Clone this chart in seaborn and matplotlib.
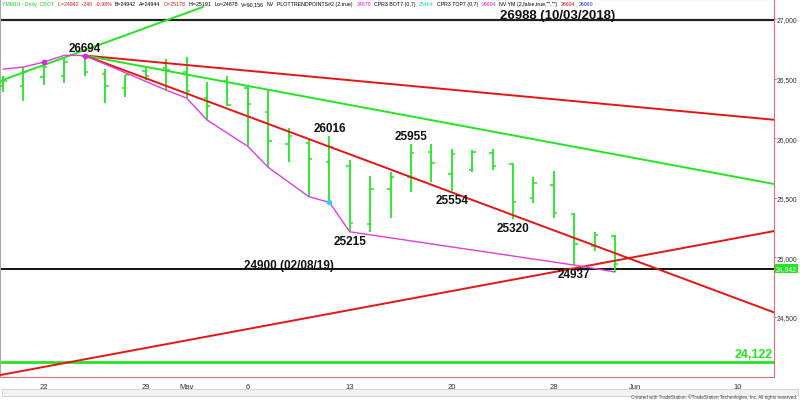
import matplotlib
matplotlib.use('Agg')
import numpy as np
import pandas as pd
import seaborn as sns
import matplotlib.pyplot as plt
from matplotlib.patches import Rectangle

###
### DATA (daily bars of YM M19, index 0 = first bar on screen)
###
bar_open  = [26440, 26440, 26516, 26524, 26690, 26539, 26421, 26561, 26589, 26553,
             26335, 26482, 26420, 26217, 25951, 25960, 25798, 25769, 25280, 25574,
             25677, 25887, 25700, 25733, 25873, 25780, 25498, 25610, 25364, 25098, 25178]
bar_high  = [26524, 26595, 26622, 26679, 26694, 26580, 26533, 26595, 26664, 26680,
             26469, 26524, 26449, 26407, 26083, 25993, 26016, 25820, 25680, 25719,
             25955, 25951, 25909, 25901, 25909, 25789, 25672, 25722, 25370, 25215, 25191]
bar_low   = [26385, 26309, 26446, 26463, 26519, 26293, 26343, 26491, 26398, 26337,
             26153, 26273, 25932, 25756, 25798, 25509, 25462, 25215, 25215, 25328,
             25551, 25630, 25554, 25714, 25733, 25320, 25454, 25330, 24937, 25056, 24878]
bar_close = [26480, 26553, 26600, 26642, 26553, 26440, 26530, 26519, 26575, 26393,
             26268, 26278, 26287, 25979, 26016, 25825, 25930, 25286, 25574, 25677,
             25873, 25789, 25867, 25887, 25769, 25467, 25624, 25372, 25112, 25188, 24942]

tick_idx = [2, 7, 9, 12, 17, 22, 27, 31, 36]
tick_lbl = ['22', '29', 'May', '6', '13', '20', '28', 'Jun', '10']
price_ticks = [24500, 25000, 25500, 26000, 26500, 27000]

### magenta swing line (trend points indicator)
nv_idx = [0, 1, 2, 3, 4, 8, 9, 10, 12, 13, 15, 16, 17, 28, 30]
nv_val = [26580, 26597, 26639, 26695, 26694, 26404, 26337, 26153, 25932, 25756,
          25509, 25462, 25215, 24936, 24878]

### swing labels
swing_idx = [4, 16, 20, 17, 22, 25, 28]
swing_val = [26694, 26016, 25955, 25215, 25554, 25320, 24937]
swing_top = [True, True, True, False, False, False, False]

### trend lines: start idx, start value, end idx, end value
trend_x0 = [-0.15, 4, 4, 4, -0.15]
trend_y0 = [26480, 26694, 26694, 26694, 24013]
trend_x1 = [9.8, 37.8, 37.8, 37.8, 37.8]
trend_y1 = [27101, 26155, 25616, 24539, 25221]
trend_col = ['#22e622', '#e81414', '#22e622', '#e81414', '#e81414']

### horizontal levels
level_val = [26988, 24900, 24122]
last_price = 24942

header = [('YMM19 - Daily  CBOT', '#22cc22'), ('L=24942  -248  -0.98%', '#e01010'),
          ('B=24942', 'black'), ('A=24944', 'black'), ('O=25178', '#e01010'),
          ('Hi=25191', 'black'), ('Lo=24878', 'black'), ('V=90,156', 'black'),
          ('NV', 'black'), ('PLOTTRENDPOINTS#2 (2,true)', 'black'), ('24878', '#e020e0'),
          ('CPR3 BOT7 (0,7)', 'black'), ('25464', '#20d0e0'), ('CPR3 TOP7 (0,7)', 'black'),
          ('26694', '#e020e0'), ('NV YM (2,false,true,"","")', 'black'),
          ('26694', '#e01010'), ('26060', '#2020e0')]

###
### PLOT
###
sns.set_style('white')
plt.rcParams['font.family'] = ['Liberation Sans', 'DejaVu Sans']

fig = plt.figure(figsize=(8, 4.02), dpi=100)
ax = fig.add_axes([0, 24 / 402, 774 / 800, 378 / 402])
ax.set_xlim(-0.15, 37.8)
ax.set_ylim(23997, 27168)

green = '#22e622'
idx = np.arange(len(bar_open))
ax.vlines(idx, bar_low, bar_high, color=green, lw=1.3, zorder=3)
ax.hlines(bar_open, idx - 0.17, idx, color=green, lw=1.1, zorder=3)
ax.hlines(bar_close, idx, idx + 0.17, color=green, lw=1.1, zorder=3)

### horizontal levels
ax.axhline(level_val[0], color='#222222', lw=1.6, zorder=2)
ax.axhline(level_val[1], color='black', lw=1.3, zorder=2)
ax.axhline(level_val[2], color='#22e622', lw=2.0, zorder=2)

### trend lines
for i in range(len(trend_x0)):
    tl = pd.DataFrame({'x': [trend_x0[i], trend_x1[i]], 'y': [trend_y0[i], trend_y1[i]]})
    sns.lineplot(data=tl, x='x', y='y', ax=ax, color=trend_col[i], lw=1.4,
                 estimator=None, sort=False, zorder=4)

### magenta swing line
nv_df = pd.DataFrame({'x': nv_idx, 'y': nv_val})
sns.lineplot(data=nv_df, x='x', y='y', ax=ax, color='#e03ce0', lw=1.0,
             estimator=None, sort=False, zorder=5)
ax.scatter([nv_idx[2], nv_idx[4]], [nv_val[2], nv_val[4]], s=9, color='#e020e0', zorder=6)
ax.scatter([nv_idx[11]], [nv_val[11]], s=9, color='#30d0f0', zorder=6)

### swing labels
for i in range(len(swing_idx)):
    off = 8 if swing_top[i] else -9
    ax.annotate(str(swing_val[i]), (swing_idx[i], swing_val[i]), xytext=(0, off),
                textcoords='offset pixels', ha='center', va='center',
                fontsize=8.5, fontweight='bold', color='#111111', zorder=7)

ax.annotate('26988 (10/03/2018)', (27.2, level_val[0]), xytext=(0, 5),
            textcoords='offset pixels', ha='center', va='center',
            fontsize=9.5, fontweight='bold', color='#111111')
ax.annotate('24900 (02/08/19)', (14.0, level_val[1]), xytext=(0, 4),
            textcoords='offset pixels', ha='center', va='center',
            fontsize=8.5, fontweight='bold', color='#111111')
ax.annotate('24,122', (1.0, level_val[2]), xycoords=('axes fraction', 'data'),
            xytext=(-1, 8), textcoords='offset pixels', ha='right', va='center',
            fontsize=9, fontweight='bold', color='#22e622')

### axes styling
ax.set_xlabel('')
ax.set_ylabel('')
ax.set_xticks(tick_idx)
ax.set_xticklabels(tick_lbl)
ax.yaxis.tick_right()
ax.set_yticks(price_ticks)
ax.set_yticklabels([f'{v:,}' for v in price_ticks])
ax.tick_params(axis='x', direction='out', length=3, width=0.7, color='#e07070',
               labelsize=5.5, labelcolor='#333333', pad=1.5)
ax.tick_params(axis='y', direction='out', length=1.5, width=0.7, color='#888888',
               labelsize=4.9, labelcolor='#333333', pad=0.5)
for s in ['right', 'bottom']:
    ax.spines[s].set_color('#e07070')
    ax.spines[s].set_linewidth(0.8)
for s in ['left', 'top']:
    ax.spines[s].set_color('#aaaaaa')
    ax.spines[s].set_linewidth(0.8)

### last price box
ax.annotate(f'{last_price:,}', (1.0, last_price), xycoords=('axes fraction', 'data'),
            xytext=(2, -4), textcoords='offset pixels', ha='left', va='center',
            fontsize=4.9, color='white',
            bbox=dict(boxstyle='square,pad=0.15', fc='#22e622', ec='none'))

### header: lay out once, then rescale so it spans the same width as the reference
fig.canvas.draw()
r = fig.canvas.get_renderer()
hfs = 5.0
gap = 3.0
widths = []
for txt, col in header:
    t = fig.text(0, 0, txt, fontsize=hfs)
    widths.append(t.get_window_extent(r).width)
    t.remove()
scale = (591 - gap * (len(header) - 1)) / sum(widths)
hx = 2
for (txt, col), w in zip(header, widths):
    fig.text(hx / 800, 1 - 4.5 / 402, txt, color=col, fontsize=hfs * scale,
             ha='left', va='center')
    hx += w * scale + gap

### scrollbar + credit
fig.patches.append(Rectangle((0.002, 5 / 402), 0.996, 7 / 402, transform=fig.transFigure,
                             fc='#f2f2f2', ec='#d0d0d0', lw=0.6))
fig.text(0.997, 1.5 / 402, 'Created with TradeStation. \u00a9TradeStation Technologies, Inc. All rights reserved.',
         fontsize=3.3, color='#444444', ha='right', va='bottom')

fig.savefig('out.png', dpi=100)
